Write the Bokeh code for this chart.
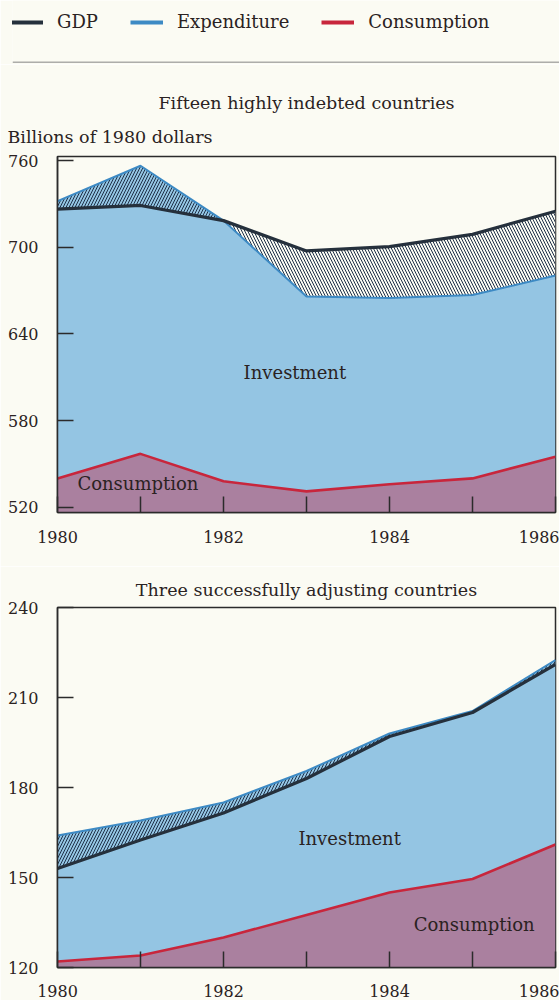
import numpy as np
from bokeh.plotting import figure
from bokeh.models import Range1d, FixedTicker, Title, Label, Legend, LegendItem, Span
from bokeh.layouts import column
from bokeh.embed import file_html
from bokeh.resources import INLINE

# ---------------- data ----------------
YEARS = [1980, 1981, 1982, 1983, 1984, 1985, 1986]
X_TICK_LABELS = {1980: "1980", 1981: "", 1982: "1982", 1983: "", 1984: "1984", 1985: "", 1986: "1986"}

LEGEND_LABELS = ["GDP", "Expenditure", "Consumption"]

P1_TITLE = "Fifteen highly indebted countries"
P1_UNIT = "Billions of 1980 dollars"
P1_GDP = [726.5, 729, 718.5, 697.5, 700.5, 709, 725]
P1_EXPENDITURE = [732, 756.5, 718.5, 666, 665, 667, 680.5]
P1_CONSUMPTION = [540, 557, 538, 531, 536, 540, 555]
P1_Y_TICKS = [520, 580, 640, 700, 760]
P1_Y_RANGE = (516.4, 762.9)

P2_TITLE = "Three successfully adjusting countries"
P2_GDP = [153, 162.5, 171.5, 183, 197, 205, 221]
P2_EXPENDITURE = [164, 169, 175, 185.5, 198, 205.5, 222.5]
P2_CONSUMPTION = [122, 124, 130, 137.5, 145, 149.5, 161]
P2_Y_TICKS = [120, 150, 180, 210, 240]
P2_Y_RANGE = (120, 240)

AREA_INVESTMENT = "Investment"
AREA_CONSUMPTION = "Consumption"

# ---------------- style ----------------
BG = "#fbfbf3"
BLUE_FILL = "#94c5e3"
MAUVE_FILL = "#aa809f"
RED = "#c8263c"
EXP_BLUE = "#3d8ac4"
GDP_DARK = "#25303c"
HATCH = "#1e3048"
FRAME = "#2b2b2b"
TEXT = "#2a2222"
FONT = "DejaVu Serif"
W = 559


def panel(gdp, exp, cons, yticks, yrange, height, b_top, b_bottom, x_standoff):
    p = figure(width=W, height=height, output_backend="svg", toolbar_location=None,
               x_range=Range1d(YEARS[0], YEARS[-1]), y_range=Range1d(*yrange),
               min_border_left=57, min_border_right=4,
               min_border_top=b_top, min_border_bottom=b_bottom,
               background_fill_color=BG, border_fill_color=BG,
               outline_line_color=FRAME, outline_line_width=1.5)
    p.frame_align = False
    gdp = np.array(gdp, dtype=float)
    exp = np.array(exp, dtype=float)
    cons = np.array(cons, dtype=float)
    top = np.maximum(gdp, exp)
    # consumption area
    p.varea(x=YEARS, y1=yrange[0], y2=cons, fill_color=MAUVE_FILL)
    # investment area (consumption -> expenditure)
    p.varea(x=YEARS, y1=cons, y2=exp, fill_color=BLUE_FILL)
    # expenditure above GDP
    p.varea(x=YEARS, y1=gdp, y2=top, fill_color=BLUE_FILL,
            hatch_pattern="/", hatch_color=HATCH, hatch_scale=6, hatch_weight=1.0)
    # GDP above expenditure
    p.varea(x=YEARS, y1=exp, y2=top, fill_color=BG,
            hatch_pattern="\\", hatch_color=HATCH, hatch_scale=6, hatch_weight=1.0)
    p.line(YEARS, exp, line_color=EXP_BLUE, line_width=2)
    p.line(YEARS, gdp, line_color=GDP_DARK, line_width=3.2)
    p.line(YEARS, cons, line_color=RED, line_width=2.6)

    p.grid.visible = False
    p.xaxis.ticker = FixedTicker(ticks=YEARS)
    p.xaxis.major_label_overrides = X_TICK_LABELS
    p.yaxis.ticker = FixedTicker(ticks=yticks)
    for ax in (p.xaxis, p.yaxis):
        ax.major_tick_in = 16
        ax.major_tick_out = 0
        ax.minor_tick_line_color = None
        ax.axis_line_color = FRAME
        ax.axis_line_width = 1.5
        ax.major_tick_line_color = FRAME
        ax.major_tick_line_width = 1.5
        ax.major_label_text_font = FONT
        ax.major_label_text_font_size = "16px"
        ax.major_label_text_color = TEXT
    p.yaxis.major_label_standoff = 19
    p.xaxis.major_label_standoff = x_standoff
    return p


# ---------------- header with legend ----------------
hdr = figure(width=W, height=64, output_backend="svg", toolbar_location=None,
             x_range=Range1d(0, 1), y_range=Range1d(0, 1),
             x_axis_location=None, y_axis_location=None,
             min_border_left=12, min_border_right=0, min_border_top=0, min_border_bottom=2,
             outline_line_color=None, background_fill_color=BG, border_fill_color=BG)
hdr.frame_align = False
hdr.grid.visible = False
NO_DATA = [np.nan]
r1 = hdr.line(x=NO_DATA, y=NO_DATA, line_color=GDP_DARK, line_width=4)
r2 = hdr.line(x=NO_DATA, y=NO_DATA, line_color=EXP_BLUE, line_width=4)
r3 = hdr.line(x=NO_DATA, y=NO_DATA, line_color=RED, line_width=4)
legend = Legend(items=[LegendItem(label=LEGEND_LABELS[0], renderers=[r1]),
                       LegendItem(label=LEGEND_LABELS[1], renderers=[r2]),
                       LegendItem(label=LEGEND_LABELS[2], renderers=[r3])],
                orientation="horizontal", location=(-2, 30),
                margin=0, padding=0, spacing=32, glyph_width=33, glyph_height=20,
                label_standoff=14, label_text_font=FONT, label_text_font_size="18px",
                label_text_color=TEXT, background_fill_alpha=0, border_line_color=None)
hdr.add_layout(legend)
hdr.add_layout(Span(location=0, dimension="width", line_color="#5e5e5e", line_width=1.5))

# ---------------- panel 1 ----------------
p1 = panel(P1_GDP, P1_EXPENDITURE, P1_CONSUMPTION, P1_Y_TICKS, P1_Y_RANGE,
           height=502, b_top=92, b_bottom=54, x_standoff=18)
p1.add_layout(Title(text=P1_UNIT, align="left", offset=-50, standoff=19,
                    text_font=FONT, text_font_size="17.5px", text_font_style="normal",
                    text_color=TEXT), "above")
p1.add_layout(Title(text=P1_TITLE, align="center", standoff=6,
                    text_font=FONT, text_font_size="17.5px", text_font_style="normal",
                    text_color=TEXT), "above")
p1.add_layout(Label(x=1982.86, y=613, text=AREA_INVESTMENT, text_align="center",
                    text_baseline="middle", text_font=FONT, text_font_size="18px",
                    text_color=TEXT))
p1.add_layout(Label(x=1980.24, y=536.5, text=AREA_CONSUMPTION, text_align="left",
                    text_baseline="middle", text_font=FONT, text_font_size="18px",
                    text_color=TEXT))

# ---------------- panel 2 ----------------
p2 = panel(P2_GDP, P2_EXPENDITURE, P2_CONSUMPTION, P2_Y_TICKS, P2_Y_RANGE,
           height=434, b_top=41, b_bottom=33, x_standoff=17)
p2.add_layout(Title(text=P2_TITLE, align="center", standoff=16,
                    text_font=FONT, text_font_size="17.5px", text_font_style="normal",
                    text_color=TEXT), "above")
p2.add_layout(Label(x=1983.52, y=163, text=AREA_INVESTMENT, text_align="center",
                    text_baseline="middle", text_font=FONT, text_font_size="18px",
                    text_color=TEXT))
p2.add_layout(Label(x=1985.02, y=134.3, text=AREA_CONSUMPTION, text_align="center",
                    text_baseline="middle", text_font=FONT, text_font_size="18px",
                    text_color=TEXT))

layout = column(hdr, p1, p2, spacing=0)
open("out.html", "w").write(file_html(layout, INLINE))
